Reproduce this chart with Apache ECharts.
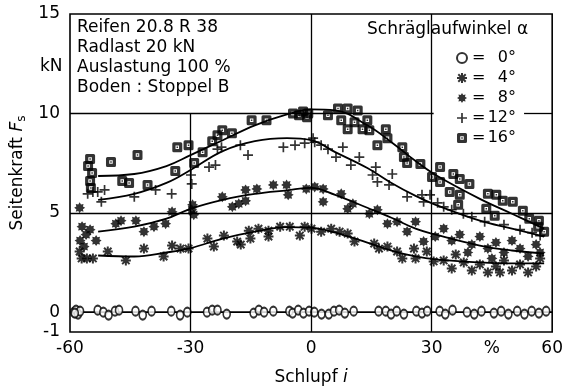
<!DOCTYPE html>
<html>
<head>
  <meta charset="utf-8" />
  <title>Seitenkraft</title>
  <script src="https://cdn.jsdelivr.net/npm/echarts@6/dist/echarts.min.js"></script>
  <style>body{margin:0;background:#fff;}</style>
</head>
<body>
<div id="main" style="width:566px;height:391px;"></div>
<script type="text/javascript">
  // tick labels
  var xTickVals = [-60, -30, 0, 30, 45, 60];
  var xTickText = ['-60', '-30', '0', '30', '%', '60'];
  var yTickVals = [-1, 0, 5, 10, 15];

  // fitted curves
  var fitX  = [-53, -44, -36, -30, -22, -14, -6, 0, 6, 14, 20, 26, 31, 42, 50, 58];
  var fit16 = [6.85, 6.95, 7.35, 7.9, 8.65, 9.4, 9.95, 10.2, 10.15, 9.4, 8.55, 7.6, 6.9, 5.7, 4.95, 4.2];
  var fit12 = [5.65, 5.95, 6.5, 7.15, 8.1, 8.6, 8.75, 8.65, 8.05, 7.25, 6.5, 5.85, 5.4, 4.6, 4.2, 3.8];
  var fit8  = [4.05, 4.3, 4.7, 5.2, 5.65, 5.95, 6.13, 6.25, 5.9, 5.25, 4.75, 4.2, 3.9, 3.35, 3.1, 2.95];
  var fit4  = [2.85, 2.8, 3.0, 3.22, 3.7, 4.05, 4.28, 4.25, 4.0, 3.5, 3.1, 2.8, 2.65, 2.5, 2.45, 2.45];
  var fit0  = [[-60, 0], [60, 0]];

  // measured points
  var pts16 = [[-55,7.7],[-55.5,7.35],[-54.5,7.0],[-55,6.6],[-54.8,6.25],[-49.8,7.55],[-43.2,7.9],[-47,6.6],
    [-45.3,6.5],[-40.7,6.4],[-33.3,8.3],[-30.5,8.4],[-33.8,7.1],[-29.1,7.5],[-27,8.05],[-24.6,8.6],[-23.3,8.9],
    [-22.1,9.15],[-19.7,9.0],[-14.8,9.65],[-11.1,9.65],[-4.5,10.0],[-3,9.9],[-2,10.1],[-1,9.8],[-0.7,10.0],
    [4.2,9.9],[6.7,10.25],[9.1,10.25],[11.6,10.15],[7.5,9.65],[10.8,9.55],[14,9.65],[12.8,9.2],[9.1,9.2],
    [14.5,9.15],[18.6,9.2],[16.5,8.4],[19,8.75],[22.7,8.3],[23.1,7.8],[23.9,7.5],[27.2,7.45],[30.1,6.8],
    [32.1,7.3],[32.1,6.55],[35.4,6.95],[37,6.7],[34.5,6.05],[37,5.9],[36.6,5.4],[39.4,6.45],[44,5.95],
    [46.1,5.9],[47.7,5.6],[50.2,5.55],[52.7,5.1],[56.7,4.6],[56.5,4.3],[43.6,5.2],[45.7,4.85],[54.3,4.7],[58,4.05]];
  var pts12 = [[-55.6,5.95],[-54.3,6.05],[-53.1,6.05],[-51.4,6.15],[-52.2,5.55],[-44,5.8],[-38.7,6.15],
    [-34.7,5.95],[-29.7,6.45],[-29.9,6.9],[-25.4,7.3],[-23.8,7.4],[-23.3,8.2],[-22.3,8.3],[-17.6,8.4],
    [-15.7,7.9],[-6.9,8.3],[-4,8.4],[-1.6,8.5],[0.5,8.75],[0.9,8.55],[2.5,8.4],[4.2,8.2],[6.2,7.8],[7.9,8.3],
    [9.9,7.4],[12,7.8],[16.1,7.3],[15.3,6.9],[16.5,6.55],[20.2,6.95],[19.4,6.4],[23.9,5.8],[27.6,5.9],
    [28,5.55],[29.6,5.9],[31.5,5.5],[33,5.3],[35,5.15],[37.9,4.95],[40,4.8],[43.2,4.55],[48,4.4],[52,4.15],
    [55,4.0],[57,3.85]];
  var pts8 = [[-57.6,5.25],[-57,4.3],[-56,3.9],[-55,4.15],[-53.5,3.6],[-57.5,3.6],[-56.5,3.3],[-48.6,4.45],
    [-47.3,4.6],[-43.6,4.6],[-41.6,4.05],[-39.1,4.3],[-36.2,4.45],[-34.6,5.05],[-29.7,5.15],[-29.5,5.4],
    [-29.2,4.9],[-22.1,5.8],[-19.6,5.3],[-18,5.45],[-16.3,5.6],[-16.3,6.15],[-13.5,6.2],[-9.4,6.4],[-6.1,6.4],
    [-5.7,5.9],[-1.2,6.2],[0.9,6.3],[3,6.2],[3,5.55],[7.5,5.95],[10.4,5.45],[9.1,5.2],[14.5,4.95],[16.5,5.15],
    [19,4.45],[21.4,4.55],[26,4.55],[23.9,4.05],[28,3.55],[30.9,3.8],[33,4.2],[35,3.6],[37,3.9],[40,3.4],
    [42,3.8],[44,3.2],[46,3.5],[48,3.0],[50,3.6],[52,3.2],[54,2.8],[56,3.4],[57,3.0],[45,2.7],[39,3.0]];
  var pts4 = [[-57.6,3.05],[-57.1,2.7],[-55.8,2.7],[-54.3,2.7],[-50.6,3.05],[-46.1,2.6],[-41.6,3.2],
    [-36.7,2.8],[-34.6,3.35],[-32.5,3.2],[-30.5,3.2],[-25.8,3.7],[-24.2,3.3],[-21.7,3.85],[-18.4,3.55],
    [-17.5,3.4],[-15.5,4.1],[-15.1,3.7],[-13.1,4.2],[-10.6,4.1],[-10.6,3.8],[-7.7,4.3],[-5.3,4.3],[-2.8,3.85],
    [-1.6,4.3],[0.1,4.2],[2.5,4.05],[5,4.2],[7.1,4.05],[9.1,3.95],[10.8,3.55],[15.7,3.45],[16.9,3.2],[19,3.3],
    [21.4,3.05],[22.7,2.7],[25.6,3.2],[26,2.7],[28.8,3.05],[30.5,2.55],[33,2.6],[35,2.2],[38,2.5],[40,2.1],
    [42,2.4],[44,2.0],[46,2.3],[48,2.6],[50,2.1],[52,2.4],[54,2.0],[56,2.3],[57,2.7],[47,2.0],[36,2.9]];
  var pts0 = [[-59,0],[-58.5,0.1],[-58,-0.1],[-57.5,0.05],[-58.8,-0.05],[-53.1,0.1],[-51.7,0],[-50.4,-0.15],
    [-48.8,0.05],[-47.8,0.1],[-43.7,0.05],[-41.9,-0.15],[-39.7,0.05],[-34.8,0.05],[-32.6,-0.15],[-30.8,0],
    [-25.9,0],[-24.6,0.1],[-23.3,0.1],[-21,-0.1],[-14.3,-0.05],[-13,0.1],[-11.7,0],[-9.4,0.05],[-5.4,0.05],
    [-4.6,-0.05],[-3.2,0.1],[-1.9,-0.05],[-0.5,0.05],[0.8,0],[2.6,-0.1],[4.4,-0.1],[5.7,0.05],[7,0.1],
    [8.4,-0.05],[10.6,0.05],[16.8,0.05],[18.6,0.05],[19.9,-0.1],[21.3,0.05],[23.1,-0.1],[26.2,0.05],
    [27.6,-0.05],[28.9,0.05],[32,0.05],[33.4,-0.1],[35.2,0.1],[38.8,0],[40.6,-0.1],[42.4,0.05],[45.5,-0.05],
    [47.3,0.05],[49.1,-0.1],[51.3,0.05],[53.1,-0.1],[54.9,0.05],[56.7,-0.05],[58.5,0.05]];

  var symStar = 'path://M20,10 L16,12.49 L17.07,17.07 L12.49,16 L10,20 L7.51,16 L2.93,17.07 L4,12.49 L0,10 ' +
    'L4,7.51 L2.93,2.93 L7.51,4 L10,0 L12.49,4 L17.07,2.93 L16,7.51 Z';
  var symAster = 'path://M8,0 L12,0 L12,20 L8,20 Z M0,8 L20,8 L20,12 L0,12 Z ' +
    'M1.2,4 L4,1.2 L18.8,16 L16,18.8 Z M16,1.2 L18.8,4 L4,18.8 L1.2,16 Z';
  var symPlus = 'path://M8.3,0 L11.7,0 L11.7,8.3 L20,8.3 L20,11.7 L11.7,11.7 L11.7,20 L8.3,20 L8.3,11.7 ' +
    'L0,11.7 L0,8.3 L8.3,8.3 Z';
  var symBox = 'path://M3,0 L17,0 Q20,0 20,3 L20,17 Q20,20 17,20 L3,20 Q0,20 0,17 L0,3 Q0,0 3,0 Z ' +
    'M6.5,6.5 L6.5,13.5 L13.5,13.5 L13.5,6.5 Z M8.5,8.5 L11.5,8.5 L11.5,11.5 L8.5,11.5 Z';

  function fit(ys) {
    return fitX.map(function (x, i) { return [x, ys[i]]; });
  }
  function curve(data) {
    return { type: 'line', data: data, smooth: 0.4, showSymbol: false, silent: true, z: 1,
      lineStyle: { color: '#000', width: 1.8 } };
  }
  function dots(name, data, symbol, size, style) {
    return { name: name, type: 'scatter', data: data, symbol: symbol, symbolSize: size, z: 3,
      itemStyle: style || { color: '#000' } };
  }

  var gridLines = curve(fit0);
  gridLines.markLine = {
    silent: true, symbol: ['none', 'none'], label: { show: false }, animation: false,
    lineStyle: { color: '#000', width: 1.3, type: 'solid' },
    data: [
      [{ coord: [-30, -1] }, { coord: [-30, 10] }],
      [{ coord: [0, -1] }, { coord: [0, 15] }],
      [{ coord: [30, -1] }, { coord: [30, 15] }],
      [{ coord: [-60, 5] }, { coord: [60, 5] }],
      [{ coord: [-60, 10] }, { coord: [30.5, 10] }],
      [{ coord: [53, 10] }, { coord: [60, 10] }]
    ]
  };

  var font = 'DejaVu Sans';
  var myChart = echarts.init(document.getElementById('main'));
  var option = {
    backgroundColor: '#fff',
    animation: false,
    textStyle: { fontFamily: font, color: '#000' },
    grid: { left: 70, right: 9, top: 14, bottom: 59, show: true, borderColor: '#000', borderWidth: 1.6 },
    xAxis: {
      type: 'value', min: -60, max: 60, interval: 15,
      axisLine: { show: false }, axisTick: { show: false }, splitLine: { show: false },
      axisLabel: {
        fontSize: 17, color: '#000', margin: 8, showMinLabel: true, showMaxLabel: true,
        formatter: function (v) {
          var i = xTickVals.indexOf(v);
          return i < 0 ? '' : xTickText[i];
        }
      },
      name: '{a|Schlupf }{b|i}', nameLocation: 'middle', nameGap: 37,
      nameTextStyle: { rich: { a: { fontSize: 17, fontFamily: font }, b: { fontSize: 17, fontFamily: font, fontStyle: 'italic' } } }
    },
    yAxis: {
      type: 'value', min: -1, max: 15, interval: 1,
      axisLine: { show: false }, axisTick: { show: false }, splitLine: { show: false },
      axisLabel: {
        fontSize: 17, color: '#000', margin: 10, showMinLabel: true, showMaxLabel: true,
        formatter: function (v) { return yTickVals.indexOf(v) < 0 ? '' : String(v); }
      },
      name: '{a|Seitenkraft }{b|F}{c|s}', nameLocation: 'middle', nameRotate: 90, nameGap: 42,
      nameTextStyle: { rich: {
        a: { fontSize: 17, fontFamily: font },
        b: { fontSize: 17, fontFamily: font, fontStyle: 'italic' },
        c: { fontSize: 12, fontFamily: font, padding: [8, 0, 0, 0] }
      } }
    },
    legend: {
      data: ['0°', '4°', '8°', '12°', '16°'],
      orient: 'vertical', left: 451, top: 44, itemWidth: 10, itemHeight: 10, itemGap: 2,
      selectedMode: false,
      textStyle: { fontSize: 16, lineHeight: 18, color: '#000', fontFamily: font,
        rich: { e: { fontSize: 16, width: 13 }, v: { fontSize: 16, width: 31, align: 'right' } } },
      formatter: function (name) { return '{e|=}{v|' + name + '}'; }
    },
    graphic: [
      { type: 'text', left: 77, top: 18, z: 10,
        style: { text: 'Reifen 20.8 R 38\nRadlast 20 kN\nAuslastung 100 %\nBoden : Stoppel B',
          font: '17px "DejaVu Sans"', lineHeight: 20, fill: '#000' } },
      { type: 'text', left: 367, top: 21, z: 10,
        style: { text: 'Schräglaufwinkel α', font: '17px "DejaVu Sans"', fill: '#000' } },
      { type: 'text', left: 40, top: 58, z: 10,
        style: { text: 'kN', font: '17px "DejaVu Sans"', fill: '#000' } }
    ],
    series: [
      gridLines,
      curve(fit(fit4)),
      curve(fit(fit8)),
      curve(fit(fit12)),
      curve(fit(fit16)),
      dots('0°', pts0, 'circle', [7, 9], { color: '#fff', borderColor: '#000', borderWidth: 1.8 }),
      dots('4°', pts4, symAster, 10),
      dots('8°', pts8, symStar, 11),
      dots('12°', pts12, symPlus, 10),
      dots('16°', pts16, symBox, 10)
    ]
  };
  myChart.setOption(option);
</script>
</body>
</html>
